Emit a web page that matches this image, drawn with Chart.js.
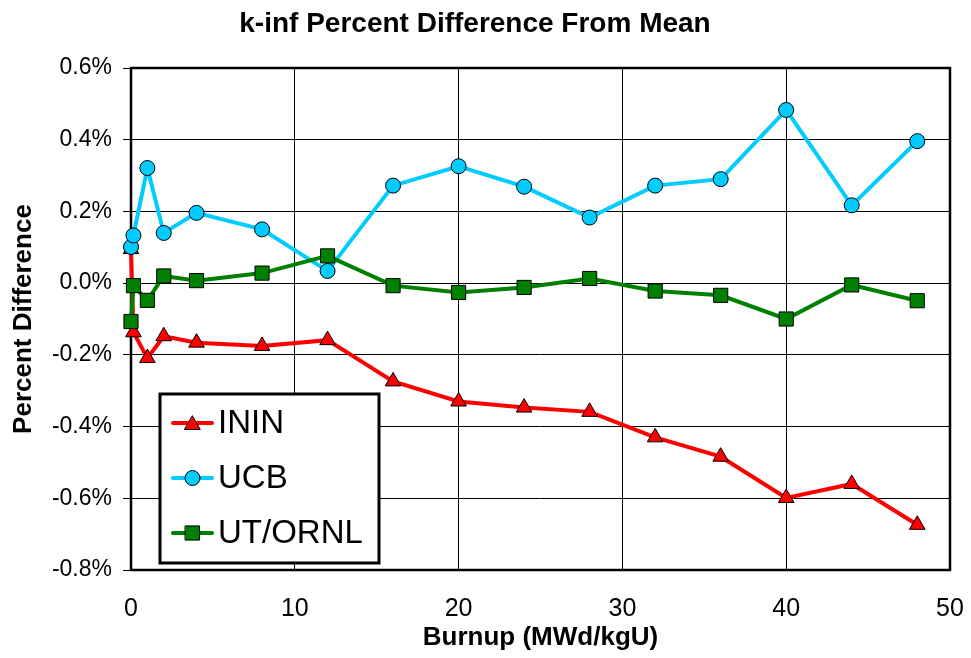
<!DOCTYPE html>
<html>
<head>
<meta charset="utf-8">
<title>k-inf Percent Difference From Mean</title>
<script src="https://cdn.jsdelivr.net/npm/chart.js@4/dist/chart.umd.min.js"></script>
<style>
  html, body { margin: 0; padding: 0; background: #ffffff; }
  #wrap { width: 971px; height: 658px; }
</style>
</head>
<body>
<div id="wrap"><canvas id="chart" width="971" height="658"></canvas></div>
<script>
// Burnup steps (MWd/kgU)
const burnup = [0, 0.15, 1, 2, 4, 8, 12, 16, 20, 24, 28, 32, 36, 40, 44, 48];

// k-inf percent difference from the mean, per code
const ininDiff   = [0.095, -0.137, -0.209, -0.148, -0.166, -0.175, -0.159, -0.274, -0.330, -0.347, -0.359, -0.430, -0.484, -0.599, -0.560, -0.674];
const ucbDiff    = [0.101, 0.133, 0.321, 0.140, 0.196, 0.150, 0.034, 0.272, 0.326, 0.269, 0.183, 0.272, 0.290, 0.483, 0.217, 0.396];
const utornlDiff = [-0.107, -0.007, -0.048, 0.020, 0.007, 0.028, 0.076, -0.007, -0.026, -0.012, 0.013, -0.022, -0.034, -0.100, -0.005, -0.049];

const seriesNames = ['ININ', 'UCB', 'UT/ORNL'];

// Axis ticks
const xTickValues = [0, 10, 20, 30, 40, 50];
const xTickLabels = ['0', '10', '20', '30', '40', '50'];
const yTickValues = [-0.8, -0.6, -0.4, -0.2, 0.0, 0.2, 0.4, 0.6];
const yTickLabels = ['-0.8%', '-0.6%', '-0.4%', '-0.2%', '0.0%', '0.2%', '0.4%', '0.6%'];

const FONT = "'Liberation Sans', Arial, Helvetica, sans-serif";

function toPoints(xs, ys) {
  return xs.map((x, i) => ({ x: x, y: ys[i] }));
}

// Black frame around the plotting area
const frame = {
  id: 'frame',
  beforeDatasetsDraw(chart) {
    const a = chart.chartArea, ctx = chart.ctx;
    ctx.save();
    ctx.strokeStyle = '#000';
    ctx.lineWidth = 2.5;
    ctx.strokeRect(a.left, a.top, a.right - a.left, a.bottom - a.top);
    ctx.restore();
  }
};

// Boxed legend placed inside the plot, lower left
const boxLegend = {
  id: 'boxLegend',
  afterDraw(chart) {
    const a = chart.chartArea, ctx = chart.ctx;
    const bx = a.left + 29, by = a.top + 326, bw = 219, bh = 169;
    ctx.save();
    ctx.fillStyle = '#fff';
    ctx.fillRect(bx, by, bw, bh);
    ctx.strokeStyle = '#000';
    ctx.lineWidth = 3;
    ctx.strokeRect(bx, by, bw, bh);
    [0, 1, 2].forEach((k, i) => {
      const ds = chart.data.datasets.find(d => d.label === seriesNames[k]);
      const cy = by + 29 + i * 55;
      const x0 = bx + 13, x1 = bx + 52;
      ctx.strokeStyle = ds.borderColor;
      ctx.lineWidth = ds.borderWidth;
      ctx.lineCap = 'round';
      ctx.beginPath();
      ctx.moveTo(x0, cy);
      ctx.lineTo(x1, cy);
      ctx.stroke();
      ctx.fillStyle = ds.pointBackgroundColor;
      ctx.strokeStyle = ds.pointBorderColor;
      ctx.lineWidth = ds.pointBorderWidth;
      Chart.helpers.drawPoint(ctx, {
        pointStyle: ds.pointStyle,
        radius: ds.pointRadius,
        borderWidth: ds.pointBorderWidth,
        rotation: 0
      }, (x0 + x1) / 2, ds.pointStyle === 'triangle' ? cy + 2 : cy);
      ctx.fillStyle = '#000';
      ctx.font = '33px ' + FONT;
      ctx.textAlign = 'left';
      ctx.textBaseline = 'middle';
      ctx.fillText(seriesNames[k], x1 + 6, cy + 1);
    });
    ctx.restore();
  }
};

new Chart(document.getElementById('chart'), {
  type: 'line',
  data: {
    datasets: [
      {
        label: seriesNames[0],
        data: toPoints(burnup, ininDiff),
        borderColor: '#ff0000',
        backgroundColor: '#ff0000',
        borderWidth: 4,
        pointStyle: 'triangle',
        pointRadius: 9,
        pointBackgroundColor: '#ff0000',
        pointBorderColor: '#000',
        pointBorderWidth: 1,
        order: 3
      },
      {
        label: seriesNames[1],
        data: toPoints(burnup, ucbDiff),
        borderColor: '#00ccff',
        backgroundColor: '#00ccff',
        borderWidth: 4,
        pointStyle: 'circle',
        pointRadius: 7.5,
        pointBackgroundColor: '#00ccff',
        pointBorderColor: '#000',
        pointBorderWidth: 1,
        order: 2
      },
      {
        label: seriesNames[2],
        data: toPoints(burnup, utornlDiff),
        borderColor: '#008000',
        backgroundColor: '#008000',
        borderWidth: 4,
        pointStyle: 'rect',
        pointRadius: 10,
        pointBackgroundColor: '#008000',
        pointBorderColor: '#000',
        pointBorderWidth: 1,
        order: 1
      }
    ]
  },
  options: {
    responsive: false,
    animation: false,
    devicePixelRatio: 1,
    clip: false,
    layout: { padding: { left: 0, right: 21, top: 0, bottom: 0 } },
    elements: { line: { tension: 0 } },
    plugins: {
      legend: { display: false },
      tooltip: { enabled: false },
      title: {
        display: true,
        text: 'k-inf Percent Difference From Mean',
        color: '#000',
        font: { family: FONT, size: 28, weight: 'bold', lineHeight: 1.2 },
        padding: { top: 7, bottom: 27.4 }
      }
    },
    scales: {
      x: {
        type: 'linear',
        min: 0,
        max: 50,
        afterBuildTicks(scale) { scale.ticks = xTickValues.map(v => ({ value: v })); },
        afterFit(scale) {
          scale.height = 88;
          scale.paddingLeft = 0;
          scale.paddingRight = 0;
        },
        ticks: {
          color: '#000',
          font: { family: FONT, size: 25 },
          padding: 24,
          maxRotation: 0,
          callback(value, index) { return xTickLabels[index]; }
        },
        grid: { color: '#000', lineWidth: 1, drawTicks: false },
        border: { display: false },
        title: {
          display: true,
          text: 'Burnup (MWd/kgU)',
          color: '#000',
          font: { family: FONT, size: 26, weight: 'bold', lineHeight: 1.2 },
          padding: 5
        }
      },
      y: {
        type: 'linear',
        min: -0.8,
        max: 0.6,
        afterBuildTicks(scale) { scale.ticks = yTickValues.map(v => ({ value: v })); },
        afterFit(scale) {
          scale.width = 131;
          scale.paddingTop = 0;
          scale.paddingBottom = 0;
        },
        ticks: {
          color: '#000',
          font: { family: FONT, size: 23 },
          padding: 11,
          callback(value, index) { return yTickLabels[index]; }
        },
        grid: { color: '#000', lineWidth: 1, drawTicks: true, tickLength: 8 },
        border: { display: false },
        title: {
          display: true,
          text: 'Percent Difference',
          color: '#000',
          font: { family: FONT, size: 26, weight: 'bold', lineHeight: 1.2 },
          padding: 8
        }
      }
    }
  },
  plugins: [frame, boxLegend]
});
</script>
</body>
</html>
